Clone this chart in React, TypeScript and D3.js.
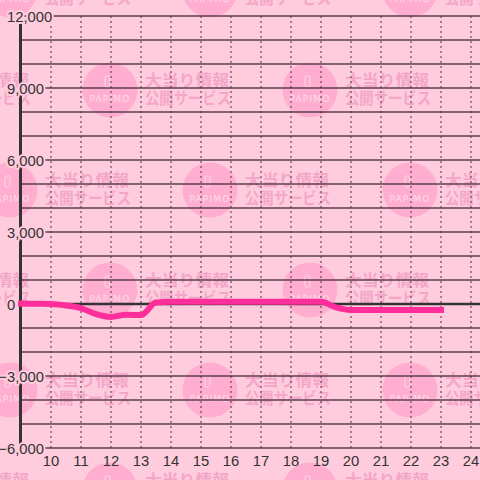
import React, { useEffect, useRef } from "react";
import * as d3 from "d3";

const hours: number[] = [9, 9.5, 10, 10.5, 11, 11.5, 12, 12.5, 13, 13.5, 14, 14.5, 15, 15.5, 16, 16.5, 17, 17.5, 18, 18.5, 19, 19.5, 20, 20.5, 21, 21.5, 22, 22.5, 23];
const values: number[] = [20, 10, 0, -60, -170, -420, -540, -450, -460, 60, 90, 90, 90, 90, 90, 90, 90, 90, 90, 90, 90, -140, -250, -250, -250, -250, -250, -250, -250];
const yTickLabels: number[] = [12000, 9000, 6000, 3000, 0, -3000, -6000];
const yGridValues: number[] = [12000, 11000, 10000, 9000, 8000, 7000, 6000, 5000, 4000, 3000, 2000, 1000, -1000, -2000, -3000, -4000, -5000, -6000];
const xTickLabels: number[] = [10, 11, 12, 13, 14, 15, 16, 17, 18, 19, 20, 21, 22, 23, 24];

const W = 480;
const H = 480;
const BG = "#ffccdd";

export default function App() {
  const ref = useRef<SVGSVGElement>(null);

  useEffect(() => {
    const svg = d3.select(ref.current);
    svg.selectAll("*").remove();

    const x = d3.scaleLinear().domain([9, 24]).range([21, 471]);
    const y = d3.scaleLinear().domain([-6000, 12000]).range([448, 16]);

    svg.append("rect").attr("width", W).attr("height", H).attr("fill", BG);

    // watermark tiles
    const wm = svg.append("g");
    for (let k = 0; k < 6; k++) {
      const cy = -10 + 100 * k;
      const off = k % 2 === 0 ? 10 : 110;
      for (let cx = off - 200; cx <= W + 100; cx += 200) {
        const g = wm.append("g").attr("transform", `translate(${cx},${cy})`);
        g.append("circle").attr("r", 27.5).attr("fill", "#ffaed0");
        g.append("rect")
          .attr("x", -5).attr("y", -14).attr("width", 5).attr("height", 11).attr("rx", 1.5)
          .attr("fill", "none").attr("stroke", "#ffd8e8").attr("stroke-width", 1);
        g.append("text")
          .attr("x", 0).attr("y", 12).attr("text-anchor", "middle")
          .attr("font-family", "'DejaVu Sans', sans-serif").attr("font-size", 9)
          .attr("letter-spacing", 1.2)
          .attr("fill", "#ffdbe9").text("PAPIMO");
        g.append("text")
          .attr("x", 35).attr("y", -4)
          .attr("font-family", "'Noto Sans CJK JP', sans-serif").attr("font-size", 16).attr("font-weight", "bold")
          .attr("textLength", 84).attr("lengthAdjust", "spacingAndGlyphs")
          .attr("fill", "#f4a6c8").text("大当り情報");
        g.append("text")
          .attr("x", 35).attr("y", 14)
          .attr("font-family", "'Noto Sans CJK JP', sans-serif").attr("font-size", 16).attr("font-weight", "bold")
          .attr("textLength", 86).attr("lengthAdjust", "spacingAndGlyphs")
          .attr("fill", "#f4a6c8").text("公開サービス");
      }
    }

    // horizontal grid
    svg.append("g").selectAll("line").data(yGridValues).join("line")
      .attr("x1", 21).attr("x2", W)
      .attr("y1", (d) => y(d)).attr("y2", (d) => y(d))
      .attr("stroke", "#5e3e4e").attr("stroke-width", 1.3);

    // vertical dotted grid
    svg.append("g").selectAll("line").data(xTickLabels).join("line")
      .attr("x1", (d) => x(d)).attr("x2", (d) => x(d))
      .attr("y1", y(12000)).attr("y2", y(-6000))
      .attr("stroke", "#4a3040").attr("stroke-width", 1)
      .attr("stroke-dasharray", "2,3");

    // zero line
    svg.append("line")
      .attr("x1", 21).attr("x2", W).attr("y1", y(0)).attr("y2", y(0))
      .attr("stroke", "#333").attr("stroke-width", 2.6);

    // y axis
    svg.append("line")
      .attr("x1", 20.5).attr("x2", 20.5).attr("y1", y(12000)).attr("y2", y(-6000))
      .attr("stroke", "#333").attr("stroke-width", 3);

    // data line
    const line = d3.line<number>()
      .x((_, i) => x(hours[i]))
      .y((d) => y(d))
      .curve(d3.curveMonotoneX);
    svg.append("path")
      .attr("d", line(values) || "")
      .attr("fill", "none")
      .attr("stroke", "#ff2e9a")
      .attr("stroke-width", 6)
      .attr("stroke-linejoin", "round")
      .attr("stroke-linecap", "square");

    // y labels
    svg.append("g").selectAll("text").data(yTickLabels).join("text")
      .attr("x", (d) => (d >= 0 ? 7 : 44))
      .attr("y", (d) => y(d) + 5.5)
      .attr("text-anchor", (d) => (d >= 0 ? "start" : "end"))
      .attr("font-family", "'Liberation Sans', Arial, sans-serif")
      .attr("font-size", 14.8)
      .attr("fill", "#333")
      .attr("stroke", BG).attr("stroke-width", 4).attr("paint-order", "stroke")
      .attr("stroke-linejoin", "round")
      .text((d) => d3.format(",")(d));

    // x labels
    svg.append("g").selectAll("text").data(xTickLabels).join("text")
      .attr("x", (d) => x(d))
      .attr("y", 466)
      .attr("text-anchor", "middle")
      .attr("font-family", "'Liberation Sans', Arial, sans-serif")
      .attr("font-size", 14.8)
      .attr("fill", "#333")
      .text((d) => String(d));
  }, []);

  return (
    <div style={{ position: "fixed", left: 0, top: 0, width: W, height: H }}>
      <svg ref={ref} width={W} height={H} style={{ display: "block" }} />
    </div>
  );
}
